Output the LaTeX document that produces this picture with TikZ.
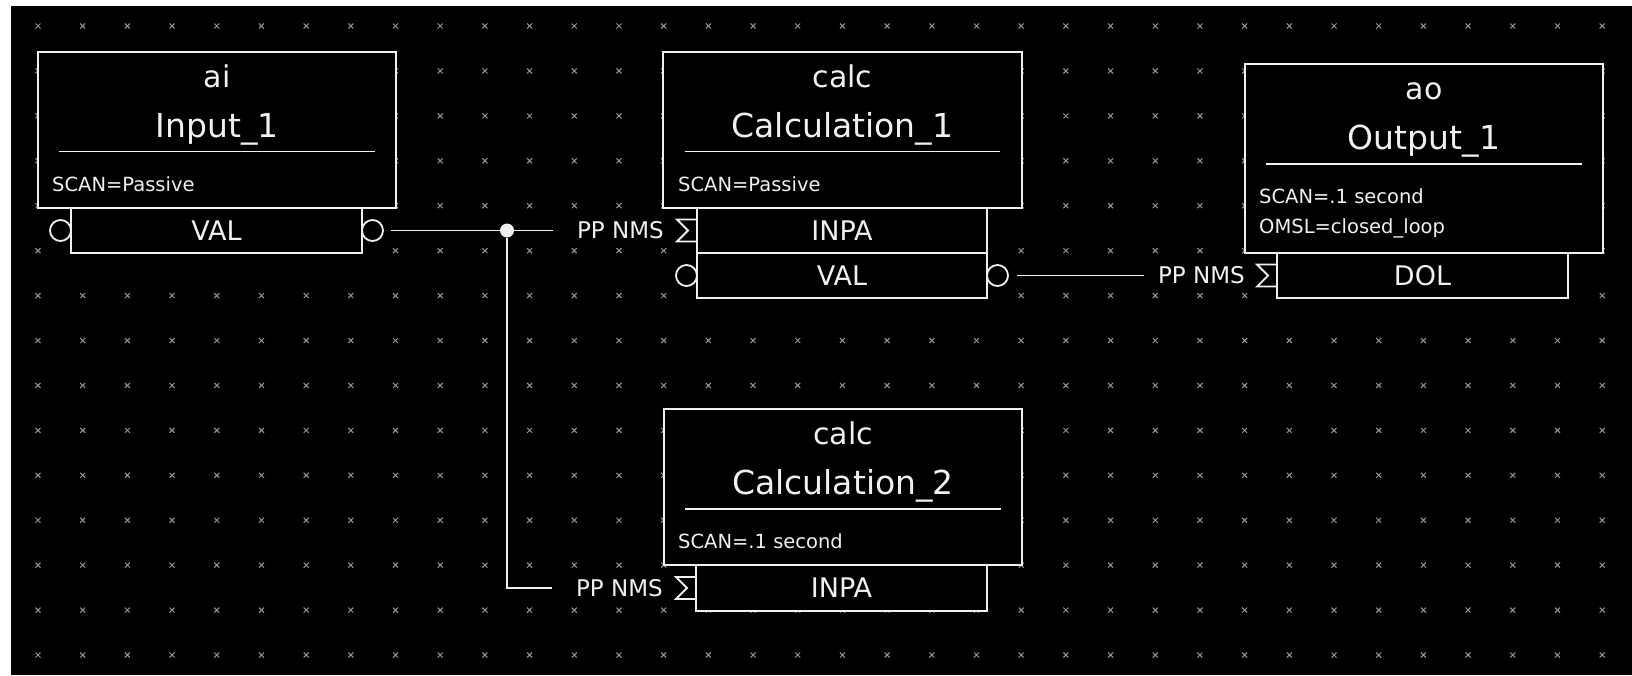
\documentclass[tikz,border=0pt]{standalone}
\usepackage{fontspec}
\setmainfont{DejaVu Sans}
\definecolor{gridgray}{RGB}{150,150,150}
\definecolor{linewhite}{RGB}{240,240,240}
\usetikzlibrary{positioning}

\newcommand{\sigmain}[1]{\draw[wire] ([yshift=11pt]#1.west) -- ++(-20,0) -- ++(11,11) -- ++(-11,11) -- ++(20,0);}

\begin{document}
\begin{tikzpicture}[x=1pt, y=-1pt,
  recbox/.style={draw=linewhite, fill=black, line width=1.8pt, inner sep=0pt,
    outer sep=0pt, anchor=north west, minimum width=358pt},
  portbox/.style={draw=linewhite, fill=black, line width=1.8pt, inner sep=0pt,
    outer sep=0pt, minimum width=291pt, minimum height=45pt, text=linewhite,
    font=\fontsize{27}{32}\selectfont},
  pcirc/.style={circle, draw=linewhite, fill=black, line width=1.8pt,
    minimum size=21pt, inner sep=0pt, outer sep=0pt},
  junction/.style={circle, fill=linewhite, minimum size=14pt, inner sep=0pt},
  typelbl/.style={anchor=base, text=linewhite, font=\fontsize{30}{36}\selectfont},
  titlelbl/.style={anchor=base, text=linewhite, font=\fontsize{33}{40}\selectfont},
  proplbl/.style={anchor=base west, inner sep=0pt, text=linewhite,
    font=\fontsize{19.5}{23}\selectfont},
  linklbl/.style={inner sep=0pt, text=linewhite, font=\fontsize{23}{28}\selectfont},
  wire/.style={draw=linewhite, line width=1.8pt},
  gdot/.style={draw=gridgray, line width=1pt},
]
\useasboundingbox (0,0) rectangle (1632,675);
\fill[white] (0,0) rectangle (1632,675);
\fill[black] (11,6) rectangle (1632,675);

% Grid
\foreach \i in {0,...,35}{
  \foreach \j in {0,...,14}{
    \draw[gdot] ({38+44.69*\i},{26+44.93*\j}) +(-2.5,-2.5) -- +(2.5,2.5)
      +(-2.5,2.5) -- +(2.5,-2.5);
  }
}

% Record 1: ai Input_1
\node[recbox, minimum height=156pt] (in1) at (38,52) {};
\node[typelbl] at ([yshift=-35pt]in1.north) {ai};
\node[titlelbl] at ([yshift=-85pt]in1.north) {Input\_1};
\draw[wire] ([xshift=21pt,yshift=-99.5pt]in1.north west)
  -- ([xshift=-21pt,yshift=-99.5pt]in1.north east);
\node[proplbl] at ([xshift=14pt,yshift=-139pt]in1.north west) {SCAN=Passive};
\node[portbox, anchor=north west] (in1val) at ([xshift=33pt]in1.south west) {VAL};
\node[pcirc, left=0pt of in1val] (in1l) {};
\node[pcirc, right=0pt of in1val] (in1r) {};

% Record 2: calc Calculation_1
\node[recbox, minimum height=156pt, minimum width=359pt] (c1) at (663,52) {};
\node[typelbl] at ([yshift=-35pt]c1.north) {calc};
\node[titlelbl] at ([yshift=-85pt]c1.north) {Calculation\_1};
\draw[wire] ([xshift=22pt,yshift=-99.5pt]c1.north west)
  -- ([xshift=-22pt,yshift=-99.5pt]c1.north east);
\node[proplbl] at ([xshift=15pt,yshift=-139pt]c1.north west) {SCAN=Passive};
\node[portbox, anchor=north west, minimum width=290pt] (c1inpa)
  at ([xshift=34pt]c1.south west) {INPA};
\node[portbox, below=0pt of c1inpa, minimum width=290pt] (c1val) {VAL};
\node[pcirc, left=0pt of c1val] (c1l) {};
\node[pcirc, right=0pt of c1val] (c1r) {};
\sigmain{c1inpa}
\node[linklbl, left=33pt of c1inpa] (p1) {PP NMS};

% Record 3: ao Output_1
\node[recbox, minimum height=189pt] (out1) at (1245,64) {};
\node[typelbl] at ([yshift=-35pt]out1.north) {ao};
\node[titlelbl] at ([yshift=-85pt]out1.north) {Output\_1};
\draw[wire] ([xshift=21pt,yshift=-100pt]out1.north west)
  -- ([xshift=-21pt,yshift=-100pt]out1.north east);
\node[proplbl] at ([xshift=14pt,yshift=-139pt]out1.north west) {SCAN=.1 second};
\node[proplbl] at ([xshift=14pt,yshift=-169pt]out1.north west) {OMSL=closed\_loop};
\node[portbox, anchor=north west] (out1dol) at ([xshift=32pt]out1.south west) {DOL};
\sigmain{out1dol}
\node[linklbl, left=32pt of out1dol] (p2) {PP NMS};

% Record 4: calc Calculation_2
\node[recbox, minimum height=156pt] (c2) at (664,409) {};
\node[typelbl] at ([yshift=-35pt]c2.north) {calc};
\node[titlelbl] at ([yshift=-85pt]c2.north) {Calculation\_2};
\draw[wire] ([xshift=21pt,yshift=-100pt]c2.north west)
  -- ([xshift=-21pt,yshift=-100pt]c2.north east);
\node[proplbl] at ([xshift=14pt,yshift=-139pt]c2.north west) {SCAN=.1 second};
\node[portbox, anchor=north west, minimum height=46pt] (c2inpa)
  at ([xshift=32pt]c2.south west) {INPA};
\sigmain{c2inpa}
\node[linklbl, left=33pt of c2inpa] (p3) {PP NMS};

% Links
\node[junction] (j1) at (507,230.5) {};
\draw[wire, shorten <=8pt] (in1r) -- (j1);
\draw[wire, shorten >=24pt] (j1) -- (p1);
\draw[wire, shorten >=24pt] (j1) |- (p3);
\draw[wire, shorten <=9pt, shorten >=14pt] (c1r) -- (p2);
\end{tikzpicture}
\end{document}
